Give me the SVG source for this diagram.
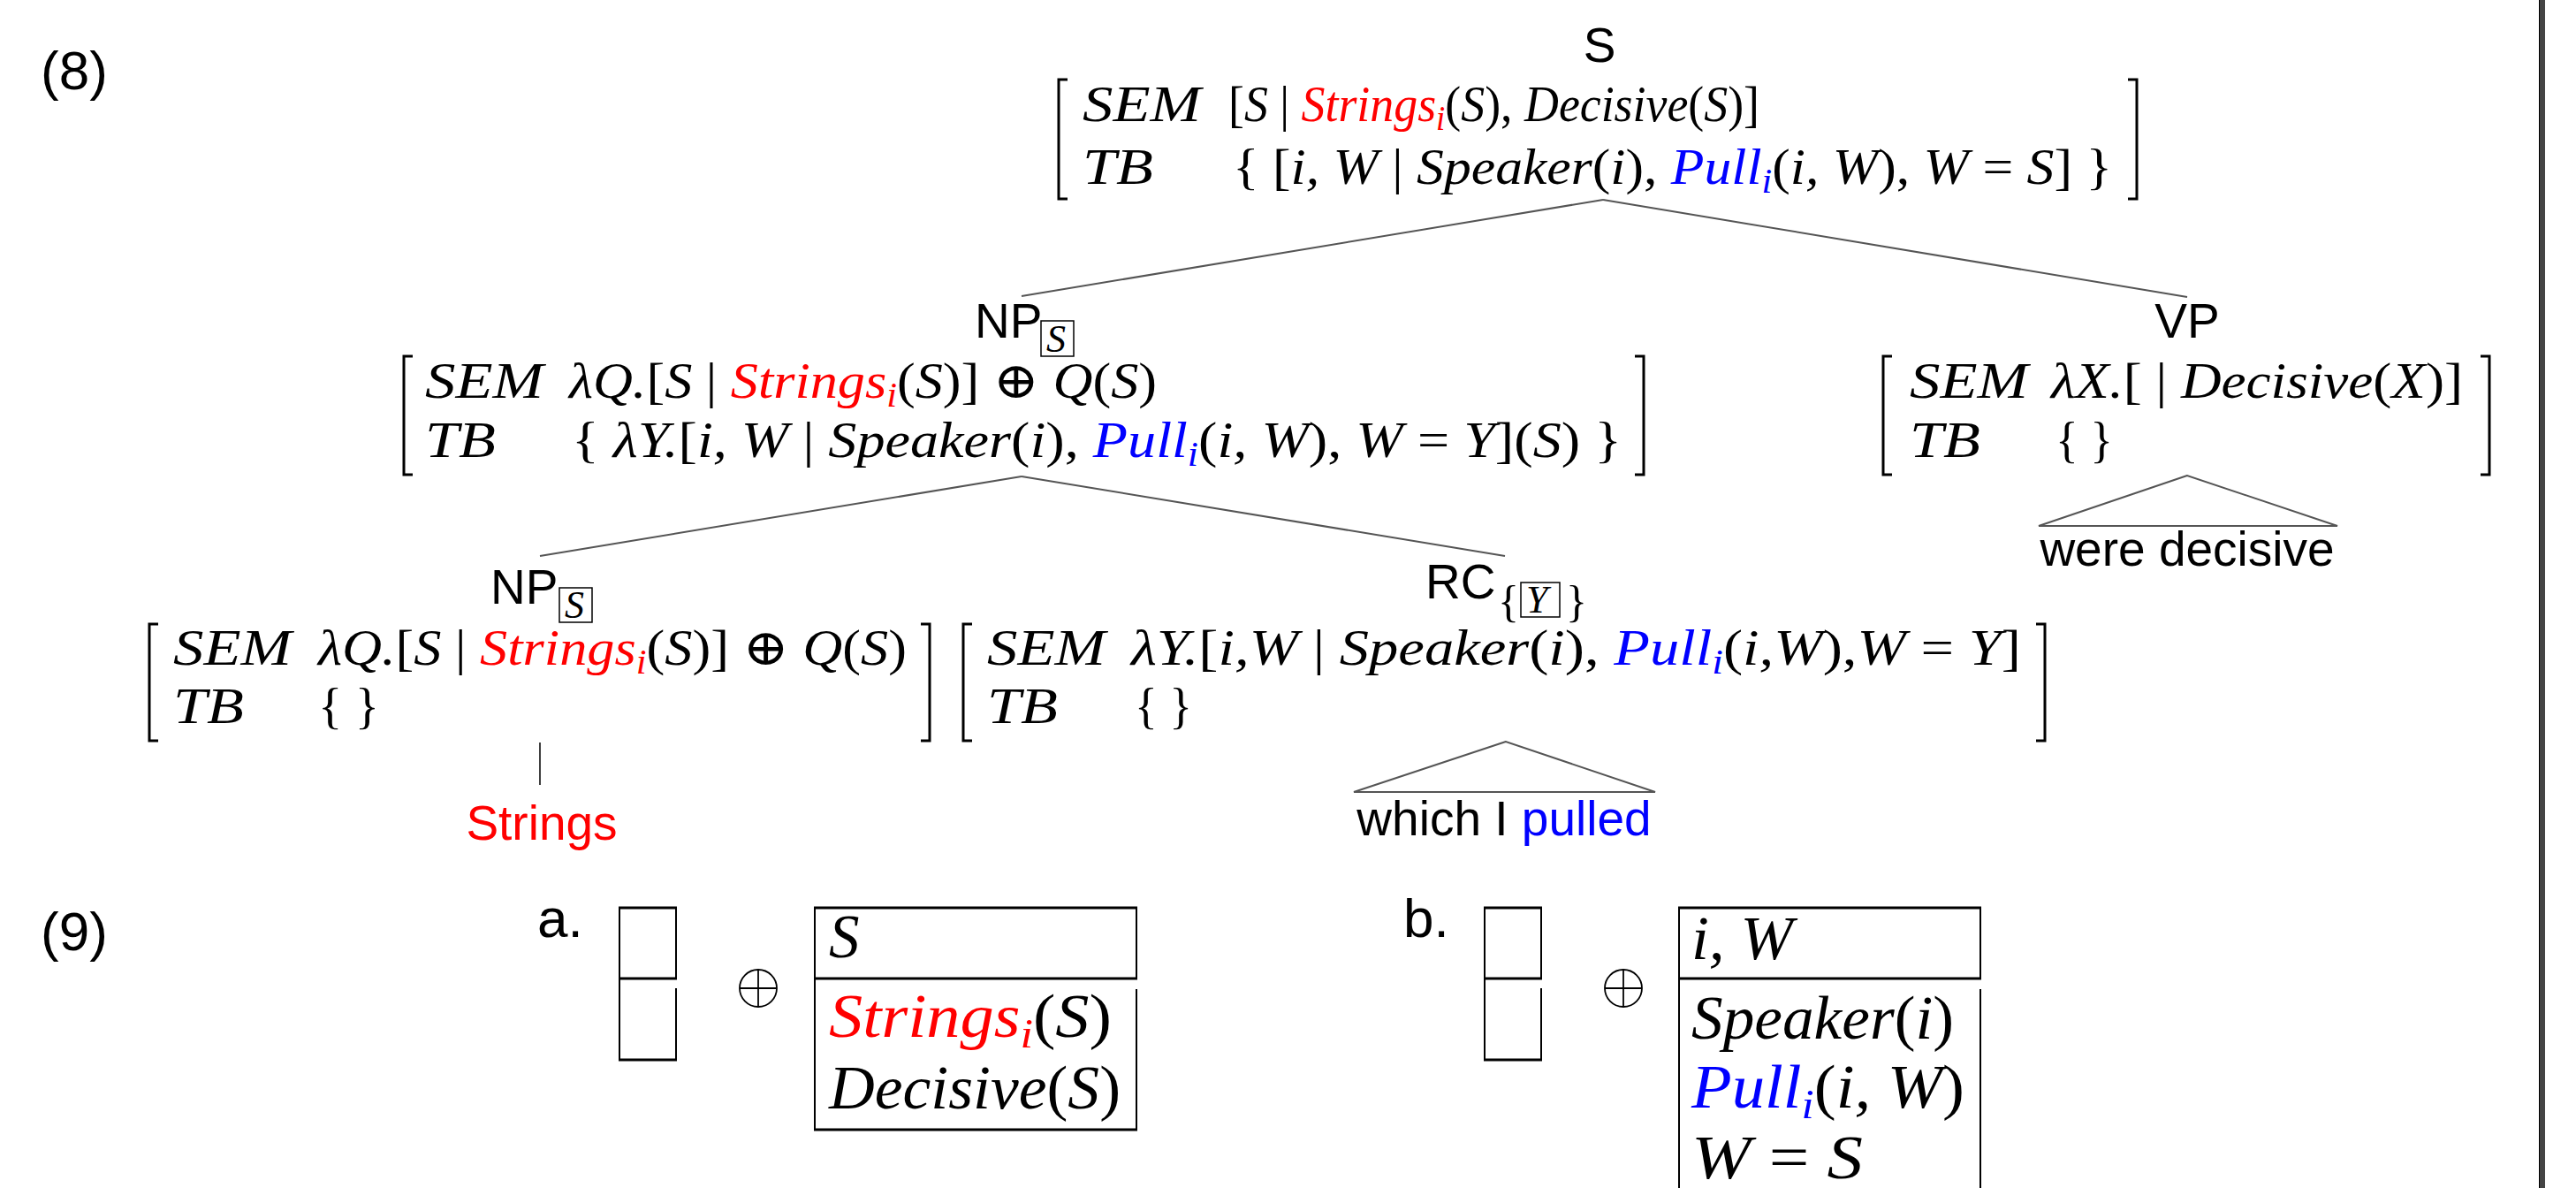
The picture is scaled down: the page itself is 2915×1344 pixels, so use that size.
<svg xmlns="http://www.w3.org/2000/svg" width="2915" height="1344" viewBox="0 0 2915 1344">
<style>
.bg{fill:#fff}
.m{font-family:"Liberation Serif","DejaVu Serif",serif;font-style:italic;font-size:57px;fill:#000}
.dm{font-family:"Liberation Serif","DejaVu Serif",serif;font-style:italic;font-size:69px;fill:#000}
.u{font-style:normal}
.sb{font-size:39px}
.dsb{font-size:47px}
.s{font-family:"Liberation Sans",Arial,sans-serif;font-size:55px;fill:#000}
.ex{font-family:"Liberation Sans",Arial,sans-serif;font-size:62px;fill:#000}
.br{fill:none;stroke:#000;stroke-width:3}
.edge{fill:none;stroke:#555;stroke-width:2}
.box{fill:none;stroke:#000;stroke-width:2}
.hl{fill:none;stroke:#000;stroke-width:3}
.r{fill:#ff0000}
.b{fill:#0000ff}
</style>
<rect class="bg" x="0" y="0" width="2915" height="1344"/>

<text class="ex" x="46" y="101">(8)</text>

<g id="connectors">
<line class="edge" x1="1814" y1="226" x2="1156" y2="335"/>
<line class="edge" x1="1814" y1="226" x2="2475" y2="336"/>
<line class="edge" x1="1156" y1="539" x2="611" y2="629"/>
<line class="edge" x1="1156" y1="539" x2="1703" y2="629"/>
<path class="edge" d="M2475 538 L2307 595 L2645 595 Z"/>
<path class="edge" d="M1704 839 L1532 896 L1873 896 Z"/>
<line stroke="#000" stroke-width="1.5" x1="611" y1="840" x2="611" y2="888"/>
</g>

<g id="node-S">
<text class="s" x="1810" y="70" text-anchor="middle">S</text>
<path class="br" d="M1208 90 H1198 V225 H1208"/>
<path class="br" d="M2408 90 H2418 V225 H2408"/>
<text class="m" x="1225" y="137" textLength="134" lengthAdjust="spacingAndGlyphs">SEM</text>
<text class="m" x="1225" y="208" textLength="80" lengthAdjust="spacingAndGlyphs">TB</text>
<text class="m" x="1390" y="137" textLength="601" lengthAdjust="spacingAndGlyphs"><tspan class="u">[</tspan>S <tspan class="u">|</tspan> <tspan class="r">Strings<tspan class="sb" dy="10">i</tspan></tspan><tspan class="u" dy="-10">(</tspan>S<tspan class="u">),</tspan> Decisive<tspan class="u">(</tspan>S<tspan class="u">)]</tspan></text>
<text class="m" x="1395" y="208" textLength="995" lengthAdjust="spacingAndGlyphs"><tspan class="u">{ [</tspan>i, W <tspan class="u">|</tspan> Speaker<tspan class="u">(</tspan>i<tspan class="u">),</tspan> <tspan class="b">Pull<tspan class="sb" dy="10">i</tspan></tspan><tspan class="u" dy="-10">(</tspan>i, W<tspan class="u">),</tspan> W <tspan class="u">=</tspan> S<tspan class="u">] }</tspan></text>
</g>

<g id="node-NP1">
<text class="s" x="1103" y="382">NP</text>
<rect class="box" x="1178" y="363" width="37" height="40" style="stroke-width:1.5"/>
<text class="m" x="1184" y="398" style="font-size:44px">S</text>
<path class="br" d="M467 403 H457 V537 H467"/>
<path class="br" d="M1850 403 H1860 V537 H1850"/>
<text class="m" x="481" y="450" textLength="134" lengthAdjust="spacingAndGlyphs">SEM</text>
<text class="m" x="481" y="517" textLength="80" lengthAdjust="spacingAndGlyphs">TB</text>
<text class="m" x="644" y="450" textLength="665" lengthAdjust="spacingAndGlyphs">λQ.<tspan class="u">[</tspan>S <tspan class="u">|</tspan> <tspan class="r">Strings<tspan class="sb" dy="10">i</tspan></tspan><tspan class="u" dy="-10">(</tspan>S<tspan class="u">)] ⊕ </tspan>Q<tspan class="u">(</tspan>S<tspan class="u">)</tspan></text>
<text class="m" x="647" y="517" textLength="1188" lengthAdjust="spacingAndGlyphs"><tspan class="u">{ </tspan>λY.<tspan class="u">[</tspan>i, W <tspan class="u">|</tspan> Speaker<tspan class="u">(</tspan>i<tspan class="u">),</tspan> <tspan class="b">Pull<tspan class="sb" dy="10">i</tspan></tspan><tspan class="u" dy="-10">(</tspan>i, W<tspan class="u">),</tspan> W <tspan class="u">=</tspan> Y<tspan class="u">](</tspan>S<tspan class="u">) }</tspan></text>
</g>

<g id="node-VP">
<text class="s" x="2475" y="382" text-anchor="middle">VP</text>
<path class="br" d="M2141 403 H2131 V537 H2141"/>
<path class="br" d="M2807 403 H2817 V537 H2807"/>
<text class="m" x="2161" y="450" textLength="134" lengthAdjust="spacingAndGlyphs">SEM</text>
<text class="m" x="2161" y="517" textLength="80" lengthAdjust="spacingAndGlyphs">TB</text>
<text class="m" x="2321" y="450" textLength="466" lengthAdjust="spacingAndGlyphs">λX.<tspan class="u">[ | </tspan>Decisive<tspan class="u">(</tspan>X<tspan class="u">)]</tspan></text>
<text class="m u" x="2326" y="517" textLength="65" lengthAdjust="spacingAndGlyphs">{ }</text>
</g>

<g id="leaf-were-decisive">
<text class="s" x="2475" y="640" text-anchor="middle">were decisive</text>
</g>

<g id="node-NP2">
<text class="s" x="555" y="683">NP</text>
<rect class="box" x="633" y="665" width="37" height="39" style="stroke-width:1.5"/>
<text class="m" x="639" y="699" style="font-size:44px">S</text>
<path class="br" d="M179 706 H169 V838 H179"/>
<path class="br" d="M1042 706 H1052 V838 H1042"/>
<text class="m" x="196" y="752" textLength="134" lengthAdjust="spacingAndGlyphs">SEM</text>
<text class="m" x="196" y="818" textLength="80" lengthAdjust="spacingAndGlyphs">TB</text>
<text class="m" x="360" y="752" textLength="666" lengthAdjust="spacingAndGlyphs">λQ.<tspan class="u">[</tspan>S <tspan class="u">|</tspan> <tspan class="r">Strings<tspan class="sb" dy="10">i</tspan></tspan><tspan class="u" dy="-10">(</tspan>S<tspan class="u">)] ⊕ </tspan>Q<tspan class="u">(</tspan>S<tspan class="u">)</tspan></text>
<text class="m u" x="360" y="818" textLength="69" lengthAdjust="spacingAndGlyphs">{ }</text>
</g>

<g id="leaf-strings">
<text class="s" x="613" y="950" text-anchor="middle" fill="#ff0000" style="fill:#ff0000">Strings</text>
</g>

<g id="node-RC">
<text class="s" x="1613" y="677">RC</text>
<text class="m u" x="1695" y="697" style="font-size:50px">{</text>
<rect class="box" x="1721" y="659" width="44" height="39" style="stroke-width:1.5"/>
<text class="m" x="1727" y="693" style="font-size:44px">Y</text>
<text class="m u" x="1772" y="697" style="font-size:50px">}</text>
<path class="br" d="M1100 706 H1090 V838 H1100"/>
<path class="br" d="M2304 706 H2314 V838 H2304"/>
<text class="m" x="1117" y="752" textLength="134" lengthAdjust="spacingAndGlyphs">SEM</text>
<text class="m" x="1117" y="818" textLength="80" lengthAdjust="spacingAndGlyphs">TB</text>
<text class="m" x="1280" y="752" textLength="1007" lengthAdjust="spacingAndGlyphs">λY.<tspan class="u">[</tspan>i,W <tspan class="u">|</tspan> Speaker<tspan class="u">(</tspan>i<tspan class="u">),</tspan> <tspan class="b">Pull<tspan class="sb" dy="10">i</tspan></tspan><tspan class="u" dy="-10">(</tspan>i,W<tspan class="u">),</tspan>W <tspan class="u">=</tspan> Y<tspan class="u">]</tspan></text>
<text class="m u" x="1284" y="818" textLength="65" lengthAdjust="spacingAndGlyphs">{ }</text>
</g>

<g id="leaf-which-i-pulled">
<text class="s" x="1702" y="945" text-anchor="middle">which I <tspan class="b">pulled</tspan></text>
</g>

<text class="ex" x="46" y="1075">(9)</text>

<g id="example-a">
<text class="ex" x="608" y="1060">a.</text>
<line class="hl" x1="700" y1="1027" x2="766" y2="1027"/>
<line class="hl" x1="700" y1="1107" x2="766" y2="1107"/>
<line class="hl" x1="700" y1="1199" x2="766" y2="1199"/>
<line class="box" x1="701" y1="1026" x2="701" y2="1200"/>
<line class="box" x1="765" y1="1026" x2="765" y2="1107"/>
<line class="box" x1="765" y1="1118" x2="765" y2="1200"/>
<circle cx="858" cy="1118" r="21" fill="none" stroke="#000" stroke-width="1.8"/>
<line x1="837" y1="1118" x2="879" y2="1118" stroke="#000" stroke-width="1.8"/>
<line x1="858" y1="1097" x2="858" y2="1139" stroke="#000" stroke-width="1.8"/>
<line class="hl" x1="921" y1="1027" x2="1287" y2="1027"/>
<line class="hl" x1="921" y1="1107" x2="1287" y2="1107"/>
<line class="hl" x1="921" y1="1278" x2="1287" y2="1278"/>
<line class="box" x1="922" y1="1026" x2="922" y2="1279"/>
<line class="box" x1="1286" y1="1026" x2="1286" y2="1107"/>
<line class="box" x1="1286" y1="1119" x2="1286" y2="1279"/>
<text class="dm" x="938" y="1083">S</text>
<text class="dm" x="938" y="1173" textLength="320" lengthAdjust="spacingAndGlyphs"><tspan class="r">Strings<tspan class="dsb" dy="12">i</tspan></tspan><tspan class="u" dy="-12">(</tspan>S<tspan class="u">)</tspan></text>
<text class="dm" x="938" y="1254" textLength="330" lengthAdjust="spacingAndGlyphs">Decisive<tspan class="u">(</tspan>S<tspan class="u">)</tspan></text>
</g>

<g id="example-b">
<text class="ex" x="1588" y="1060">b.</text>
<line class="hl" x1="1679" y1="1027" x2="1745" y2="1027"/>
<line class="hl" x1="1679" y1="1107" x2="1745" y2="1107"/>
<line class="hl" x1="1679" y1="1199" x2="1745" y2="1199"/>
<line class="box" x1="1680" y1="1026" x2="1680" y2="1200"/>
<line class="box" x1="1744" y1="1026" x2="1744" y2="1107"/>
<line class="box" x1="1744" y1="1118" x2="1744" y2="1200"/>
<circle cx="1837" cy="1118" r="21" fill="none" stroke="#000" stroke-width="1.8"/>
<line x1="1816" y1="1118" x2="1858" y2="1118" stroke="#000" stroke-width="1.8"/>
<line x1="1837" y1="1097" x2="1837" y2="1139" stroke="#000" stroke-width="1.8"/>
<line class="hl" x1="1899" y1="1027" x2="2242" y2="1027"/>
<line class="hl" x1="1899" y1="1107" x2="2242" y2="1107"/>
<line class="box" x1="1900" y1="1026" x2="1900" y2="1344"/>
<line class="box" x1="2241" y1="1026" x2="2241" y2="1107"/>
<line class="box" x1="2241" y1="1119" x2="2241" y2="1344"/>
<text class="dm" x="1914" y="1085" textLength="115" lengthAdjust="spacingAndGlyphs">i, W</text>
<text class="dm" x="1914" y="1175" textLength="297" lengthAdjust="spacingAndGlyphs">Speaker<tspan class="u">(</tspan>i<tspan class="u">)</tspan></text>
<text class="dm" x="1914" y="1253" textLength="309" lengthAdjust="spacingAndGlyphs"><tspan class="b">Pull<tspan class="dsb" dy="12">i</tspan></tspan><tspan class="u" dy="-12">(</tspan>i, W<tspan class="u">)</tspan></text>
<text class="dm" x="1914" y="1333" textLength="194" lengthAdjust="spacingAndGlyphs">W <tspan class="u">=</tspan> S</text>
</g>

<rect x="2873" y="0" width="7" height="1344" fill="#444"/>
<line x1="2873.5" y1="0" x2="2873.5" y2="1344" stroke="#000" stroke-width="1"/>
</svg>
